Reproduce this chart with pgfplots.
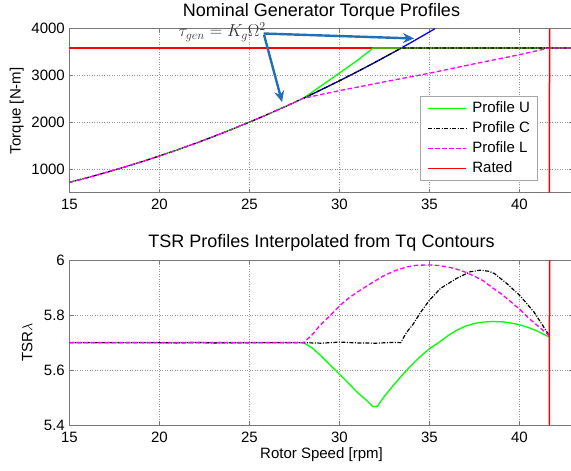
\documentclass[border=0pt]{standalone}
\usepackage{fontspec}
\setmainfont{Liberation Sans}
\usepackage{pgfplots}
\pgfplotsset{compat=1.18}
\usetikzlibrary{arrows.meta}
\definecolor{mgreen}{RGB}{0,255,0}
\definecolor{mmag}{RGB}{255,0,255}
\definecolor{mred}{RGB}{255,0,0}
\definecolor{arrowblue}{RGB}{35,110,185}
\definecolor{gridgray}{RGB}{150,150,150}
\definecolor{axgray}{RGB}{120,120,120}
\definecolor{anngray}{RGB}{50,50,50}

\pgfplotsset{
 mystyle/.style={
  scale only axis, width=504pt, height=164pt,
  xmin=15, xmax=43, xtick={15,20,...,40},
  grid=major,
  major grid style={gridgray, line width=0.5pt, dash pattern=on 1pt off 1.5pt},
  axis line style={axgray, line width=0.8pt},
  tick style={axgray, line width=0.6pt},
  tick align=inside, major tick length=4pt,
  /pgf/number format/assume math mode=true,
  /pgf/number format/1000 sep={},
  scaled ticks=false,
  tick label style={font=\fontsize{15}{18}\selectfont},
  xticklabel style={inner sep=0pt, anchor=north, yshift=-6.5pt},
  yticklabel style={inner sep=0pt, anchor=east, xshift=-4.5pt},
  every axis title/.style={at={(axis description cs:0.5,1)}, anchor=base, yshift=12.5pt, font=\fontsize{18}{21}\selectfont, inner sep=0pt},
  every axis x label/.style={at={(axis description cs:0.5,0)}, anchor=base, yshift=-33.5pt, font=\fontsize{15}{18}\selectfont, inner sep=0pt},
  clip mode=individual,
  pU/.style={color=mgreen, line width=1.3pt, solid},
  pC/.style={color=black, line width=1.2pt, dash pattern=on 4pt off 1.5pt on 1pt off 1.5pt},
  pL/.style={color=mmag, line width=1.3pt, dash pattern=on 4.5pt off 2.5pt},
  pR/.style={color=mred, draw=mred, line width=1.5pt, solid},
 }
}

\begin{document}
\begin{tikzpicture}
\begin{axis}[mystyle, at={(69.5pt,278.3pt)}, anchor=south west,
  ymin=500, ymax=4000, ytick={1000,2000,3000,4000},
  title={Nominal Generator Torque Profiles},
  ylabel={Torque [N-m]},
  every axis y label/.style={at={(axis description cs:-0.0968,0.5)}, rotate=90, anchor=base, font=\fontsize{15}{18}\selectfont, inner sep=0pt},
  legend cell align=left,
  legend image code/.code={\draw[#1] (0pt,0pt) -- (38pt,0pt);},
  legend style={at={(axis description cs:0.6954,0.5896)}, anchor=north west, draw=gray!70, line width=0.8pt, fill=white, inner xsep=7pt, inner ysep=5pt, row sep=6pt, column sep=5.5pt, font=\fontsize{15}{18}\selectfont, nodes={inner sep=0pt, text height=11pt, text depth=3pt}},
]
% rated torque (below the profiles)
\addplot[pR, forget plot] coordinates {(15,3589) (43,3589)};
% K_g Omega^2 continuation
\addplot[color=blue, line width=1.3pt, forget plot] coordinates {
 (28,2516.64) (29,2699.61) (30,2889.0) (31,3084.81) (32,3287.04) (33,3495.69) (34,3710.76) (35,3932.25) (35.3,3999.9)};
% Profile U
\addplot[pU] coordinates {
 (15,722.25) (16,821.76) (17,927.69) (18,1040.04) (19,1158.81) (20,1284.0) (21,1415.61) (22,1553.64) (23,1698.09) (24,1848.96) (25,2006.25) (26,2169.96) (27,2340.09) (28,2516.64)
 (29,2785) (30,3055) (31,3325) (31.88,3589) (43,3589)};
\addlegendentry{Profile U}
% Profile C
\addplot[pC] coordinates {
 (15,722.25) (16,821.76) (17,927.69) (18,1040.04) (19,1158.81) (20,1284.0) (21,1415.61) (22,1553.64) (23,1698.09) (24,1848.96) (25,2006.25) (26,2169.96) (27,2340.09) (28,2516.64)
 (29,2699.61) (30,2889.0) (31,3084.81) (32,3287.04) (33,3495.69) (33.44,3589) (43,3589)};
\addlegendentry{Profile C}
% Profile L
\addplot[pL] coordinates {
 (15,722.25) (16,821.76) (17,927.69) (18,1040.04) (19,1158.81) (20,1284.0) (21,1415.61) (22,1553.64) (23,1698.09) (24,1848.96) (25,2006.25) (26,2169.96) (27,2340.09) (28,2516.64)
 (30,2678) (32.44,2862) (35,3050) (37.44,3247) (40,3445) (41.66,3589) (43,3589)};
\addlegendentry{Profile L}
% rated speed
\addplot[pR, forget plot] coordinates {(41.66,500) (41.67,4000)};
\addlegendimage{pR}
\addlegendentry{Rated}
% annotation
\node[anchor=base west, inner sep=0pt, text=anngray, font=\fontsize{16.5}{20}\selectfont] at (axis cs:21.05,3823) {$\tau_{gen}=K_g\Omega^2$};
\draw[arrowblue, line width=2.4pt, -{Stealth[length=11pt, width=10pt]}] (axis cs:25.78,3897) -- (axis cs:34.14,3791);
\draw[arrowblue, line width=2.4pt, -{Stealth[length=11pt, width=10pt]}] (axis cs:25.81,3865) -- (axis cs:26.81,2436);
\end{axis}

\begin{axis}[mystyle, at={(69.5pt,46pt)}, anchor=south west, height=164.7pt,
  ymin=5.4, ymax=6, ytick={5.4,5.6,5.8,6},
  title={TSR Profiles Interpolated from Tq Contours},
  xlabel={Rotor Speed [rpm]},
  ylabel={TSR$\lambda$},
  every axis y label/.style={at={(axis description cs:-0.0736,0.5)}, rotate=90, anchor=base, font=\fontsize{15}{18}\selectfont, inner sep=0pt},
]
\addplot[pU] coordinates {
 (15,5.7) (28,5.7) (28.5,5.68) (29,5.65) (29.5,5.617) (30,5.585) (30.5,5.552) (31,5.518) (31.5,5.49) (31.85,5.467) (32.1,5.468)
 (32.5,5.505) (33,5.545) (33.5,5.583) (34,5.618) (34.5,5.65) (35,5.678) (35.5,5.70) (36,5.724) (36.5,5.745) (37,5.760) (37.5,5.770)
 (38,5.775) (38.5,5.777) (39,5.776) (39.5,5.772) (40,5.765) (40.5,5.755) (41,5.742) (41.66,5.72)};
\addplot[pC] coordinates {
 (15,5.7) (20,5.7) (21,5.699) (22,5.701) (23,5.699) (25,5.7) (28,5.70) (29,5.698) (30,5.702) (31,5.699) (32,5.698) (33,5.701) (33.4,5.70)
 (33.7,5.735) (34.1,5.768) (34.5,5.81) (35,5.855) (35.6,5.897) (36.5,5.934) (37.25,5.958) (37.8,5.964) (38.3,5.96) (38.6,5.952)
 (39.3,5.915) (40,5.873) (40.8,5.812) (41.66,5.725)};
\addplot[pL] coordinates {
 (15,5.7) (28,5.7) (28.5,5.73) (28.93,5.764) (29.5,5.80) (30,5.834) (30.5,5.862) (31.15,5.891) (31.8,5.918) (32.44,5.943) (33,5.96)
 (33.74,5.976) (34.3,5.982) (35,5.983) (35.5,5.981) (36,5.976) (36.5,5.968) (37.07,5.955) (37.5,5.942) (38,5.925) (38.5,5.9)
 (39,5.877) (39.5,5.85) (40,5.822) (40.5,5.79) (41,5.762) (41.66,5.725)};
\addplot[pR] coordinates {(41.66,5.4) (41.67,6)};
\end{axis}
\pgfresetboundingbox
\useasboundingbox (0pt,0pt) rectangle (571pt,471pt);
\end{tikzpicture}
\end{document}
